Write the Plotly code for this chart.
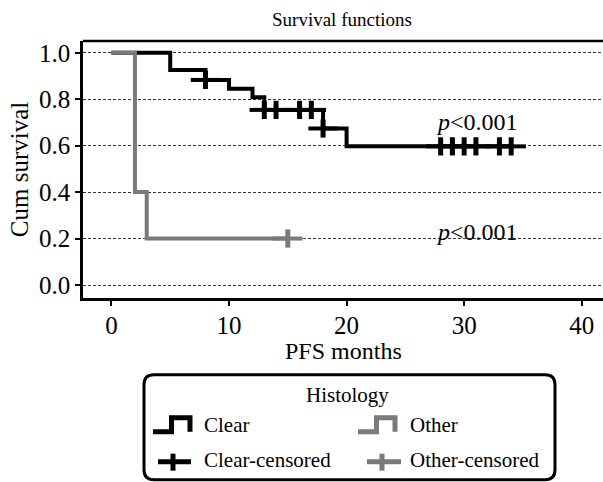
import plotly.graph_objects as go

# ---- data ----
clear_time = [0, 5, 8, 10, 12, 13, 18, 20, 34]
clear_surv = [1.0, 0.926, 0.883, 0.845, 0.808, 0.754, 0.674, 0.597, 0.597]
clear_cens_time = [8, 13, 14, 16, 17, 18, 28, 29, 30, 31, 33, 34]
clear_cens_surv = [0.883, 0.754, 0.754, 0.754, 0.754, 0.674,
                   0.597, 0.597, 0.597, 0.597, 0.597, 0.597]

other_time = [0, 2, 3, 15]
other_surv = [1.0, 0.4, 0.2, 0.2]
other_cens_time = [15]
other_cens_surv = [0.2]

x_ticks = [0, 10, 20, 30, 40]
y_ticks = [0.0, 0.2, 0.4, 0.6, 0.8, 1.0]
y_tick_text = ["0.0", "0.2", "0.4", "0.6", "0.8", "1.0"]

BLACK = "#000000"
GRAY = "#7a7a7a"
FONT = "Liberation Serif, Times New Roman, serif"

# plot area in pixels
L, R, T, B = 83, 603, 40.5, 298
W, H = R - L, B - T


def px(x):
    return (x - L) / W


def py(y):
    return (B - y) / H


fig = go.Figure()

# Clear curve
fig.add_trace(go.Scatter(x=clear_time, y=clear_surv, mode="lines",
                         line=dict(color=BLACK, width=4, shape="hv"),
                         showlegend=False, hoverinfo="skip"))
fig.add_trace(go.Scatter(x=clear_cens_time, y=clear_cens_surv, mode="markers",
                         marker=dict(symbol="line-ew", size=21,
                                     line=dict(color=BLACK, width=4)),
                         showlegend=False, hoverinfo="skip"))
fig.add_trace(go.Scatter(x=clear_cens_time, y=clear_cens_surv, mode="markers",
                         marker=dict(symbol="line-ns", size=13,
                                     line=dict(color=BLACK, width=5)),
                         showlegend=False, hoverinfo="skip"))

# Other curve
fig.add_trace(go.Scatter(x=other_time, y=other_surv, mode="lines",
                         line=dict(color=GRAY, width=4, shape="hv"),
                         showlegend=False, hoverinfo="skip"))
fig.add_trace(go.Scatter(x=other_cens_time, y=other_cens_surv, mode="markers",
                         marker=dict(symbol="line-ew", size=21,
                                     line=dict(color=GRAY, width=4)),
                         showlegend=False, hoverinfo="skip"))
fig.add_trace(go.Scatter(x=other_cens_time, y=other_cens_surv, mode="markers",
                         marker=dict(symbol="line-ns", size=13,
                                     line=dict(color=GRAY, width=5)),
                         showlegend=False, hoverinfo="skip"))

shapes = []
# top frame line
shapes.append(dict(type="line", xref="paper", yref="paper", x0=0, x1=1, y0=1, y1=1,
                   line=dict(color=BLACK, width=2.5)))

# legend box (rounded)
bx0, bx1, by0, by1 = px(144), px(555), py(480), py(375)
rx, ry = 10 / W, 10 / H
path = (f"M {bx0+rx},{by1} L {bx1-rx},{by1} Q {bx1},{by1} {bx1},{by1-ry} "
        f"L {bx1},{by0+ry} Q {bx1},{by0} {bx1-rx},{by0} "
        f"L {bx0+rx},{by0} Q {bx0},{by0} {bx0},{by0+ry} "
        f"L {bx0},{by1-ry} Q {bx0},{by1} {bx0+rx},{by1} Z")
shapes.append(dict(type="path", xref="paper", yref="paper", path=path,
                   line=dict(color=BLACK, width=3), fillcolor="white"))


def step_icon(x0, x1, color):
    xm = (x0 + x1) / 2
    p = (f"M {px(x0)},{py(432)} L {px(xm)},{py(432)} L {px(xm)},{py(418)} "
         f"L {px(x1)},{py(418)} L {px(x1)},{py(432)}")
    return dict(type="path", xref="paper", yref="paper", path=p,
                line=dict(color=color, width=5))


def plus_icon(x0, x1, xc, color):
    return [dict(type="line", xref="paper", yref="paper", x0=px(x0), x1=px(x1),
                 y0=py(462), y1=py(462), line=dict(color=color, width=5)),
            dict(type="line", xref="paper", yref="paper", x0=px(xc), x1=px(xc),
                 y0=py(454), y1=py(471), line=dict(color=color, width=5))]


shapes.append(step_icon(153, 190, BLACK))
shapes.append(step_icon(358, 395, GRAY))
shapes += plus_icon(158, 191, 173, BLACK)
shapes += plus_icon(367, 401, 382, GRAY)

annotations = [
    dict(text="Survival functions", xref="paper", yref="paper", x=px(342), y=py(19),
         showarrow=False, xanchor="center", yanchor="middle",
         font=dict(family=FONT, size=19, color=BLACK)),
    dict(text="PFS months", xref="paper", yref="paper", x=px(343), y=py(351),
         showarrow=False, xanchor="center", yanchor="middle",
         font=dict(family=FONT, size=24, color=BLACK)),
    dict(text="<i>p</i>&lt;0.001", xref="x", yref="y", x=31.1, y=0.702,
         showarrow=False, xanchor="center", yanchor="middle",
         font=dict(family=FONT, size=24, color=BLACK)),
    dict(text="<i>p</i>&lt;0.001", xref="x", yref="y", x=31.1, y=0.229,
         showarrow=False, xanchor="center", yanchor="middle",
         font=dict(family=FONT, size=24, color=BLACK)),
    dict(text="Histology", xref="paper", yref="paper", x=px(347), y=py(395),
         showarrow=False, xanchor="center", yanchor="middle",
         font=dict(family=FONT, size=21, color=BLACK)),
    dict(text="Clear", xref="paper", yref="paper", x=px(202), y=py(425),
         showarrow=False, xanchor="left", yanchor="middle",
         font=dict(family=FONT, size=21, color=BLACK)),
    dict(text="Other", xref="paper", yref="paper", x=px(408), y=py(425),
         showarrow=False, xanchor="left", yanchor="middle",
         font=dict(family=FONT, size=21, color=BLACK)),
    dict(text="Clear-censored", xref="paper", yref="paper", x=px(202), y=py(460),
         showarrow=False, xanchor="left", yanchor="middle",
         font=dict(family=FONT, size=21, color=BLACK)),
    dict(text="Other-censored", xref="paper", yref="paper", x=px(408), y=py(460),
         showarrow=False, xanchor="left", yanchor="middle",
         font=dict(family=FONT, size=21, color=BLACK)),
]

fig.update_layout(
    width=603, height=482,
    margin=dict(l=L, r=603 - R, t=T, b=482 - B, pad=0),
    paper_bgcolor="white", plot_bgcolor="white",
    showlegend=False,
    shapes=shapes,
    annotations=annotations,
    font=dict(family=FONT, color=BLACK, size=22),
)

fig.update_xaxes(
    range=[-2.42, 41.81], tickvals=x_ticks, ticks="outside", ticklen=5, tickwidth=2,
    tickcolor=BLACK, showline=True, linecolor=BLACK, linewidth=2.5,
    showgrid=False, zeroline=False, ticklabelstandoff=-2,
    tickfont=dict(family=FONT, size=25, color=BLACK),
)
fig.update_yaxes(
    range=[-0.056, 1.0507], tickvals=y_ticks, ticktext=y_tick_text, ticks="outside",
    ticklen=5, tickwidth=2, tickcolor=BLACK, showline=True, linecolor=BLACK, linewidth=2.5,
    showgrid=True, gridcolor="#333333", gridwidth=1, griddash="3px,2px", zeroline=False,
    tickfont=dict(family=FONT, size=25, color=BLACK),
    title=dict(text="Cum survival", font=dict(family=FONT, size=25, color=BLACK), standoff=4),
)

fig.write_html("out.html")
